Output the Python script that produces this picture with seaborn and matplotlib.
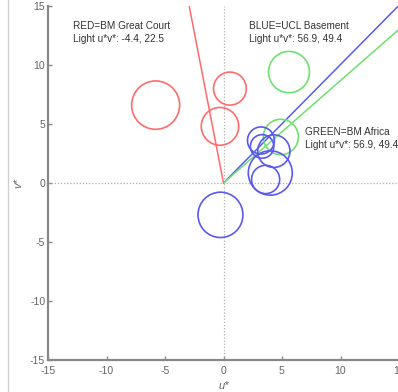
import matplotlib
matplotlib.use("Agg")
import matplotlib.pyplot as plt
from matplotlib.patches import Circle
from matplotlib.lines import Line2D
import seaborn as sns
import pandas as pd

# ---- data ----
ticks = [-15, -10, -5, 0, 5, 10, 15]

red_light = (-4.4, 22.5)
blue_light = (50.0, 50.2)
green_light = (56.9, 49.4)

red_u = [-5.8, 0.55, -0.3]
red_v = [6.6, 8.0, 4.8]
red_r = [2.05, 1.4, 1.6]

green_u = [5.6, 4.9]
green_v = [9.4, 3.9]
green_r = [1.75, 1.5]

blue_u = [3.2, 3.3, 4.3, 4.0, 3.6, -0.26]
blue_v = [3.6, 3.1, 2.7, 0.85, 0.3, -2.7]
blue_r = [1.15, 1.0, 1.38, 1.88, 1.2, 1.92]

labels = [
    ("RED=BM Great Court", "Light u*v*: -4.4, 22.5", -12.9, 13.3),
    ("BLUE=UCL Basement", "Light u*v*: 56.9, 49.4", 2.15, 13.3),
    ("GREEN=BM Africa", "Light u*v*: 56.9, 49.4", 7.0, 4.35),
]

# ---- style ----
sns.set_style("ticks")
plt.rcParams['font.family'] = ['Liberation Sans', 'DejaVu Sans']
plt.rcParams['xtick.direction'] = 'in'
plt.rcParams['ytick.direction'] = 'in'

RED = '#ff6b6b'
GREEN = '#6fe06f'
BLUE = '#5a5af0'
GREY = '#888888'

fig = plt.figure(figsize=(3.98, 3.92), dpi=100)
ax = fig.add_axes([48 / 398, 32 / 392, 351 / 398, 354 / 392])

ax.set_xlim(-15, 15)
ax.set_ylim(-15, 15)

# zero reference lines
ax.axhline(0, color='#b0b0b0', lw=0.9, ls=(0, (1, 1.5)), zorder=1)
ax.axvline(0, color='#b0b0b0', lw=0.9, ls=(0, (1, 1.5)), zorder=1)

# light direction lines
lines_df = pd.DataFrame({
    'u': [0, red_light[0], 0, blue_light[0], 0, green_light[0]],
    'v': [0, red_light[1], 0, blue_light[1], 0, green_light[1]],
    'light': ['red', 'red', 'blue', 'blue', 'green', 'green'],
})
sns.lineplot(data=lines_df, x='u', y='v', hue='light', sort=False,
             palette={'red': RED, 'blue': BLUE, 'green': GREEN},
             lw=1.1, legend=False, ax=ax, estimator=None, zorder=3)

# circles
for us, vs, rs, col in [(red_u, red_v, red_r, RED),
                        (green_u, green_v, green_r, GREEN),
                        (blue_u, blue_v, blue_r, BLUE)]:
    for u, v, r in zip(us, vs, rs):
        ax.add_patch(Circle((u, v), r, fill=False, ec=col, lw=1.2, zorder=4))

for l1, l2, x, y in labels:
    ax.text(x, y, l1, fontsize=7.2, color='#333333', va='center', ha='left')
    ax.text(x, y - 1.12, l2, fontsize=7.2, color='#333333', va='center', ha='left')

ax.set_xticks(ticks)
ax.set_yticks(ticks)
ax.set_xticklabels([str(t) for t in ticks])
ax.set_yticklabels([str(t) for t in ticks])
ax.tick_params(axis='both', colors=GREY, labelcolor='#666666', labelsize=7.6,
               length=3, width=1)
ax.tick_params(axis='x', pad=4)
ax.tick_params(axis='y', pad=2)

for s in ['top', 'right']:
    ax.spines[s].set_visible(False)
for s in ['left', 'bottom']:
    ax.spines[s].set_color(GREY)
    ax.spines[s].set_linewidth(1.6)

ax.set_xlabel('u*', fontsize=8, color='#666666', style='italic', labelpad=4)
ax.set_ylabel('v*', fontsize=8, color='#666666', style='italic', labelpad=5)

# thin frame edge at left of the figure
fig.add_artist(Line2D([8 / 398, 8 / 398], [0, 1], color='#d0d0d0', lw=1.0,
                      transform=fig.transFigure))

fig.savefig('out.png', dpi=100)
